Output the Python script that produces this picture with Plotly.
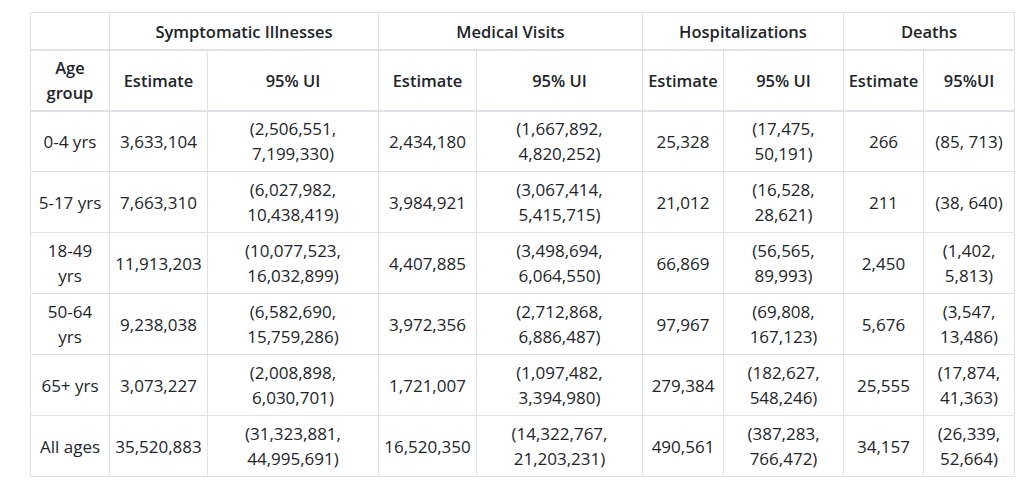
import plotly.graph_objects as go

# ---------------- data ----------------
measures = ["Symptomatic Illnesses", "Medical Visits", "Hospitalizations", "Deaths"]
sub_headers = ["Estimate", "95% UI", "Estimate", "95% UI", "Estimate", "95% UI", "Estimate", "95%UI"]
age_header = "Age group"
age_groups = ["0-4 yrs", "5-17 yrs", "18-49 yrs", "50-64 yrs", "65+ yrs", "All ages"]

sym_est = [3633104, 7663310, 11913203, 9238038, 3073227, 35520883]
sym_lo = [2506551, 6027982, 10077523, 6582690, 2008898, 31323881]
sym_hi = [7199330, 10438419, 16032899, 15759286, 6030701, 44995691]

med_est = [2434180, 3984921, 4407885, 3972356, 1721007, 16520350]
med_lo = [1667892, 3067414, 3498694, 2712868, 1097482, 14322767]
med_hi = [4820252, 5415715, 6064550, 6886487, 3394980, 21203231]

hosp_est = [25328, 21012, 66869, 97967, 279384, 490561]
hosp_lo = [17475, 16528, 56565, 69808, 182627, 387283]
hosp_hi = [50191, 28621, 89993, 167123, 548246, 766472]

death_est = [266, 211, 2450, 5676, 25555, 34157]
death_lo = [85, 38, 1402, 3547, 17874, 26339]
death_hi = [713, 640, 5813, 13486, 41363, 52664]

# ---------------- layout / style ----------------
W, H = 1031, 483
left, top = 30.5, 12.5
col_widths = [79, 98, 171, 98, 166, 81, 120, 80, 91]
head1_h, head2_h, row_h = 37, 61, 61
line_gap = 25
text_nudge = 2.5
font_family = "Open Sans"
head_font_family = "Open Sans SemiBold, Open Sans"
font_size = 17
head_font_size = 16.5
text_color = "#212529"
grid_color = "#dee2e6"
pad = 10

char_w = {d: 0.572 for d in "0123456789"}
char_w.update({",": 0.245, "(": 0.296, ")": 0.296, " ": 0.26, "-": 0.322, "+": 0.572,
               "y": 0.5, "r": 0.4, "s": 0.44, "A": 0.633, "l": 0.244, "a": 0.556,
               "g": 0.55, "e": 0.55, "%": 0.82, "U": 0.73, "I": 0.28, "o": 0.6, "p": 0.6,
               "u": 0.6, "G": 0.7})


def text_width(s):
    return sum(char_w.get(c, 0.55) for c in s) * 16


def wrap(s, width):
    if text_width(s) <= width - 2 * pad or " " not in s:
        return [s]
    words = s.split(" ")
    lines, cur = [], ""
    for w in words:
        cand = (cur + " " + w).strip()
        if cur and text_width(cand) > width - 2 * pad:
            lines.append(cur)
            cur = w
        else:
            cur = cand
    lines.append(cur)
    return lines


def fmt(v):
    return f"{v:,}"


def ui(lo, hi):
    return f"({fmt(lo)}, {fmt(hi)})"


# cumulative column edges
edges = [0]
for w in col_widths:
    edges.append(edges[-1] + w)
col_centers = [(edges[i] + edges[i + 1]) / 2 for i in range(len(col_widths))]
group_edges = [edges[0], edges[1], edges[3], edges[5], edges[7], edges[9]]

row_tops = [0, head1_h]
for i in range(len(age_groups)):
    row_tops.append(head1_h + head2_h + i * row_h)
row_tops.append(head1_h + head2_h + len(age_groups) * row_h)
total_h = row_tops[-1]

# ---------------- text placement ----------------
hx, hy, ht = [], [], []
bx, by, bt = [], [], []


def place(xs, ys, ts, x, y_top, h, width, s):
    lines = wrap(s, width)
    yc = y_top + h / 2 + text_nudge
    n = len(lines)
    for k, ln in enumerate(lines):
        xs.append(x)
        ys.append(yc + (k - (n - 1) / 2) * line_gap)
        ts.append(ln)


# header row 1 (grouped)
for g, m in enumerate(measures):
    x = (group_edges[g + 1] + group_edges[g + 2]) / 2
    place(hx, hy, ht, x, row_tops[0], head1_h, group_edges[g + 2] - group_edges[g + 1], m)
# header row 2
place(hx, hy, ht, col_centers[0], row_tops[1], head2_h, col_widths[0], age_header)
for j, s in enumerate(sub_headers):
    place(hx, hy, ht, col_centers[j + 1], row_tops[1], head2_h, col_widths[j + 1], s)

# body
for i, ag in enumerate(age_groups):
    row = [ag,
           fmt(sym_est[i]), ui(sym_lo[i], sym_hi[i]),
           fmt(med_est[i]), ui(med_lo[i], med_hi[i]),
           fmt(hosp_est[i]), ui(hosp_lo[i], hosp_hi[i]),
           fmt(death_est[i]), ui(death_lo[i], death_hi[i])]
    for j, s in enumerate(row):
        place(bx, by, bt, col_centers[j], row_tops[i + 2], row_h, col_widths[j], s)

fig = go.Figure()
fig.add_trace(go.Scatter(x=hx, y=hy, text=ht, mode="text", textposition="middle center",
                         textfont=dict(family=head_font_family, size=head_font_size, color=text_color, weight=600),
                         hoverinfo="skip", showlegend=False))
fig.add_trace(go.Scatter(x=bx, y=by, text=bt, mode="text", textposition="middle center",
                         textfont=dict(family=font_family, size=font_size, color=text_color),
                         hoverinfo="skip", showlegend=False))

# ---------------- grid lines ----------------
shapes = []


def hline(y, x0, x1, w=1):
    shapes.append(dict(type="line", xref="x", yref="y", x0=x0, x1=x1, y0=y, y1=y,
                       line=dict(color=grid_color, width=w), layer="below"))


def vline(x, y0, y1, w=1):
    shapes.append(dict(type="line", xref="x", yref="y", x0=x, x1=x, y0=y0, y1=y1,
                       line=dict(color=grid_color, width=w), layer="below"))


hline(0, 0, edges[-1])
hline(row_tops[1] + 0.5, 0, edges[-1], 2)
hline(row_tops[2] + 0.5, 0, edges[-1], 2)
for r in row_tops[3:]:
    hline(r, 0, edges[-1])
for x in group_edges:
    vline(x, 0, row_tops[1])
for x in edges:
    vline(x, row_tops[1], total_h)

fig.update_layout(
    width=W, height=H,
    margin=dict(l=0, r=0, t=0, b=0),
    paper_bgcolor="white", plot_bgcolor="white",
    shapes=shapes,
    xaxis=dict(range=[-left, W - left], visible=False, fixedrange=True),
    yaxis=dict(range=[H - top, -top], visible=False, fixedrange=True),
    showlegend=False,
)

# remove the default 8px page margin so the figure fills the 1031x483 window exactly
fig.write_html("out.html", config={"displayModeBar": False},
               post_script="document.body.style.margin='0px';document.body.style.overflow='hidden';")
